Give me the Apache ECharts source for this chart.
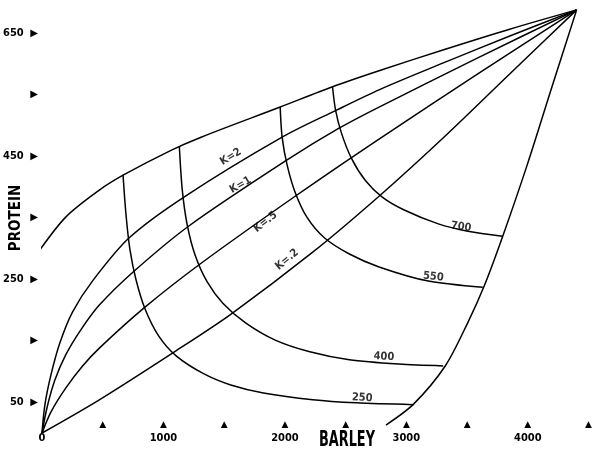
<!DOCTYPE html>
<html>
<head>
<meta charset="utf-8">
<script src="https://cdn.jsdelivr.net/npm/echarts@6/dist/echarts.min.js"></script>
<style>
html, body { margin: 0; padding: 0; background: #fff; }
#chart { width: 595px; height: 453px; }
</style>
</head>
<body>
<div id="chart"></div>
<script>
// barley (x) / protein (y) values
var upperEdge = [[-49,289],[195,351],[472,395],[675,420],[1066,460],[1310,481],[1961,530],[2392,563],[2775,589],[3320,624],[3857,657],[4402,688]];
var lowerEdge = [[2832,13],[3059,47],[3320,109],[3507,180],[3645,241],[3792,319],[3995,436],[4199,563],[4402,688]];

var kTwo   = [[0,0],[24,46],[73,94],[146,146],[252,197],[415,247],[716,317],[1172,384],[1977,481],[2425,525],[2775,558],[3320,603],[3857,646],[4402,688]];
var kOne   = [[0,0],[41,41],[106,86],[195,127],[317,167],[472,208],[757,263],[1212,337],[2018,444],[2449,496],[2775,530],[3588,610],[4402,688]];
var kHalf  = [[0,0],[73,34],[195,73],[334,109],[472,138],[838,203],[1310,276],[2099,387],[2775,478],[3588,584],[4402,688]];
var kFifth = [[0,0],[472,54],[1090,132],[1554,193],[2229,294],[2775,385],[3320,483],[3857,585],[4402,688]];

var iso250 = [[667,420],[692,354],[724,298],[773,250],[846,203],[960,158],[1107,125],[1334,96],[1554,78],[1823,65],[2229,54],[2587,49],[3059,46]];
var iso400 = [[1131,465],[1155,395],[1196,338],[1261,289],[1359,246],[1489,211],[1676,179],[1920,151],[2205,132],[2530,119],[2937,112],[3303,109]];
var iso550 = [[1961,530],[1977,481],[2018,436],[2083,392],[2181,351],[2327,317],[2531,291],[2775,270],[3181,247],[3629,237]];
var iso700 = [[2392,563],[2417,525],[2465,488],[2547,447],[2661,411],[2799,384],[2978,363],[3263,340],[3507,328],[3792,320]];

// curve tags
var tagText  = ['K=2','K=1','K=.5','K=.2','700','550','400','250'];
var tagX     = [1554,1635,1839,2018,3450,3222,2815,2636];
var tagY     = [449,403,343,282,335,254,124,57];
var tagAngle = [31,30,38,40,-8,-6,-3,-3];

var xLabelled = [0,1000,2000,3000,4000];
var yLabelled = [650,450,250,50];

var narrow = '"Liberation Sans Narrow", "DejaVu Sans Condensed", sans-serif';

var chart = echarts.init(document.getElementById('chart'));

function curve(name, pts) {
    return {
        name: name,
        type: 'line',
        data: pts,
        showSymbol: false,
        smooth: 0.3,
        clip: false,
        silent: true,
        lineStyle: { color: '#000', width: 1.5 }
    };
}

var tags = [];
for (var i = 0; i < tagText.length; i++) {
    tags.push({
        value: [tagX[i], tagY[i]],
        name: tagText[i],
        label: { rotate: tagAngle[i] }
    });
}

chart.setOption({
    animation: false,
    backgroundColor: '#fff',
    grid: { left: 39, right: 3, top: 2.5, bottom: 20 },
    xAxis: {
        type: 'value',
        min: 0,
        max: 4500,
        interval: 500,
        axisLine: { show: false },
        axisTick: { show: false },
        splitLine: { show: false },
        axisLabel: {
            margin: -16,
            formatter: function (v) {
                if (v === 0) return '{t| }\n{n|0}';
                if (xLabelled.indexOf(v) >= 0) return '{t|▲}\n{n|' + v + '}';
                return '{t|▲}';
            },
            rich: {
                t: { fontSize: 9, lineHeight: 15, color: '#000', fontFamily: 'DejaVu Sans' },
                n: { fontSize: 11, lineHeight: 13, color: '#000', fontWeight: 'bold', fontFamily: narrow }
            }
        }
    },
    yAxis: {
        type: 'value',
        min: 0,
        max: 700,
        interval: 50,
        axisLine: { show: false },
        axisTick: { show: false },
        splitLine: { show: false },
        axisLabel: {
            margin: 4,
            formatter: function (v) {
                if ((v - 50) % 100 !== 0) return '';
                if (yLabelled.indexOf(v) >= 0) return '{n|' + v + '}  {t|▶}';
                return '{t|▶}';
            },
            rich: {
                t: { fontSize: 10, color: '#000', fontFamily: 'DejaVu Sans' },
                n: { fontSize: 11, color: '#000', fontWeight: 'bold', fontFamily: narrow }
            }
        }
    },
    graphic: [
        {
            type: 'text', x: 347, y: 441, scaleX: 0.68,
            style: { text: 'BARLEY', font: 'bold 21px ' + narrow, fill: '#000', align: 'center', verticalAlign: 'middle' }
        },
        {
            type: 'text', x: 16, y: 218, rotation: Math.PI / 2,
            style: { text: 'PROTEIN', font: 'bold 15px ' + narrow, fill: '#000', align: 'center', verticalAlign: 'middle' }
        }
    ],
    series: [
        curve('upper', upperEdge),
        curve('lower', lowerEdge),
        curve('K=2', kTwo),
        curve('K=1', kOne),
        curve('K=.5', kHalf),
        curve('K=.2', kFifth),
        curve('250', iso250),
        curve('400', iso400),
        curve('550', iso550),
        curve('700', iso700),
        {
            name: 'tags',
            type: 'scatter',
            symbolSize: 0,
            silent: true,
            data: tags,
            label: {
                show: true,
                position: 'inside',
                formatter: '{b}',
                color: '#000',
                fontSize: 11,
                fontWeight: 'bold',
                fontFamily: narrow
            }
        }
    ]
});
</script>
</body>
</html>
